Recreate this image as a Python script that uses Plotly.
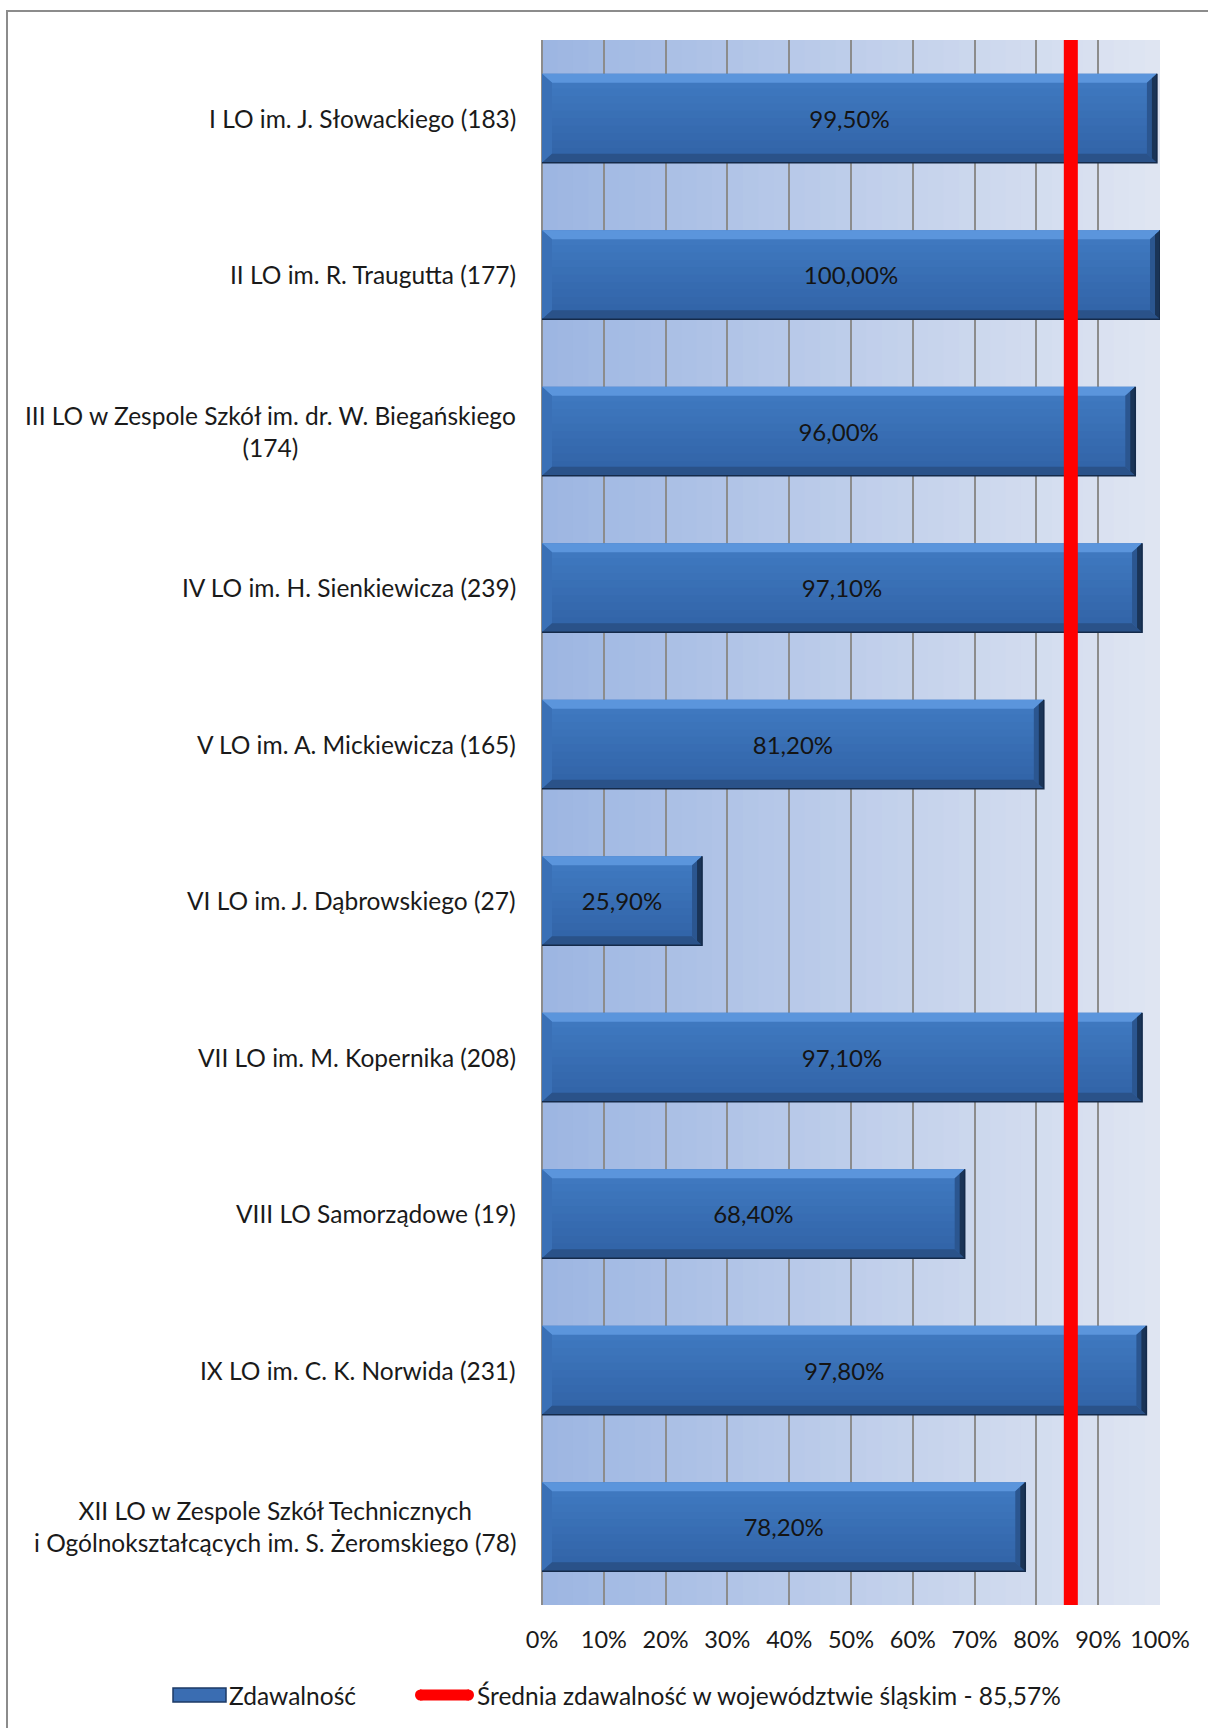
import plotly.graph_objects as go

# ---------------- data ----------------
schools = [
    "I LO im. J. Słowackiego (183)",
    "II LO im. R. Traugutta (177)",
    "III LO w Zespole Szkół im. dr. W. Biegańskiego<br>(174)",
    "IV LO im. H. Sienkiewicza (239)",
    "V LO im. A. Mickiewicza (165)",
    "VI LO im. J. Dąbrowskiego (27)",
    "VII LO im. M. Kopernika (208)",
    "VIII LO Samorządowe (19)",
    "IX LO im. C. K. Norwida (231)",
    "XII LO w Zespole Szkół Technicznych<br>i Ogólnokształcących im. S. Żeromskiego (78)",
]
pass_rate = [99.5, 100.0, 96.0, 97.1, 81.2, 25.9, 97.1, 68.4, 97.8, 78.2]
region_avg = 85.57
tick_vals = [0, 10, 20, 30, 40, 50, 60, 70, 80, 90, 100]
tick_text = ["0%", "10%", "20%", "30%", "40%", "50%", "60%", "70%", "80%", "90%", "100%"]
series_name = "Zdawalność"
avg_name = "Średnia zdawalność w województwie śląskim - 85,57%"

FONT = "Lato"
TXT = "#1a1a1a"
W, H = 1208, 1728
ML, MR, MT, MB = 542, 48, 40, 123
PW, PH = W - ML - MR, H - MT - MB
BARGAP = 0.43

n = len(schools)
ypos = list(range(n))
labels = [f"{v:.2f}".replace(".", ",") + "%" for v in pass_rate]

fig = go.Figure()
fig.add_trace(go.Bar(
    x=pass_rate, y=ypos, orientation="h",
    marker=dict(color="rgba(0,0,0,0)", line=dict(width=0)),
    text=labels, textposition="inside", insidetextanchor="middle",
    textangle=0, constraintext="none",
    textfont=dict(family=FONT, size=24, color="#141414"),
    name=series_name, showlegend=False, hoverinfo="skip",
))
fig.add_trace(go.Scatter(
    x=[region_avg, region_avg], y=[0, 1], yaxis="y2", mode="lines",
    line=dict(color="#ff0000", width=14), name=avg_name,
    showlegend=False, hoverinfo="skip",
))

shapes = []
# background gradient bands (overlapping to avoid seams)
N = 40
c0 = (157, 182, 226)
c1 = (223, 229, 242)
for i in range(N):
    t = i / (N - 1)
    col = tuple(round(c0[k] + (c1[k] - c0[k]) * t) for k in range(3))
    shapes.append(dict(type="rect", xref="x", yref="paper",
                       x0=100 * i / N, x1=min(100, 100 * (i + 2) / N), y0=0, y1=1,
                       fillcolor=f"rgb{col}", line=dict(width=0), layer="below"))

# bevelled bar faces, derived from the bar values
half = (1 - BARGAP) / 2
bx = 10 / PW * 100          # horizontal bevel size in data units
by = 9 / (PH / n)           # vertical bevel size in category units
top_c = (64, 122, 194)
bot_c = (49, 99, 166)
S = 12
for yi, v in zip(ypos, pass_rate):
    yt, yb = yi - half, yi + half
    # face gradient
    for s in range(S):
        t = s / (S - 1)
        col = tuple(round(top_c[k] + (bot_c[k] - top_c[k]) * t) for k in range(3))
        y0 = yt + (yb - yt) * s / S
        y1 = yt + (yb - yt) * min(S, s + 1.5) / S
        shapes.append(dict(type="rect", xref="x", yref="y", x0=0, x1=v, y0=y0, y1=min(y1, yb),
                           fillcolor=f"rgb{col}", line=dict(width=0), layer="between"))
    # top bevel
    shapes.append(dict(type="path", xref="x", yref="y", layer="between",
                       path=f"M0,{yt} L{v},{yt} L{v-bx},{yt+by} L{bx},{yt+by} Z",
                       fillcolor="#5b95dc", line=dict(width=0)))
    # left bevel
    shapes.append(dict(type="path", xref="x", yref="y", layer="between",
                       path=f"M0,{yt} L{bx},{yt+by} L{bx},{yb-by} L0,{yb} Z",
                       fillcolor="#3a70b6", line=dict(width=0)))
    # bottom bevel
    shapes.append(dict(type="path", xref="x", yref="y", layer="between",
                       path=f"M0,{yb} L{bx},{yb-by} L{v-bx},{yb-by} L{v},{yb} Z",
                       fillcolor="#2a5289", line=dict(width=0)))
    # right bevel (two tones for a soft gradient)
    shapes.append(dict(type="path", xref="x", yref="y", layer="between",
                       path=f"M{v},{yt} L{v},{yb} L{v-bx},{yb-by} L{v-bx},{yt+by} Z",
                       fillcolor="#2b5690", line=dict(width=0)))
    shapes.append(dict(type="path", xref="x", yref="y", layer="between",
                       path=f"M{v},{yt} L{v},{yb} L{v-bx/2},{yb-by/2} L{v-bx/2},{yt+by/2} Z",
                       fillcolor="#1a3457", line=dict(width=0)))
    # thin dark outline at bottom/right edges
    shapes.append(dict(type="path", xref="x", yref="y", layer="between",
                       path=f"M0,{yb} L{v},{yb} L{v},{yt}",
                       line=dict(color="#142a4a", width=1.5)))


def px_x(px):
    return (px - ML) / PW


def px_y(py):
    return (H - MB - py) / PH


# outer border (left and top visible)
shapes.append(dict(type="rect", xref="paper", yref="paper",
                   x0=px_x(7), x1=px_x(1215), y0=px_y(1740), y1=px_y(11),
                   line=dict(color="#8c8c8c", width=2), fillcolor="rgba(0,0,0,0)", layer="below"))

# custom legend
shapes.append(dict(type="rect", xref="paper", yref="paper",
                   x0=px_x(173), x1=px_x(226), y0=px_y(1702), y1=px_y(1688),
                   fillcolor="#3a6db2", line=dict(color="#1d3a66", width=1.5)))
shapes.append(dict(type="line", xref="paper", yref="paper",
                   x0=px_x(420), x1=px_x(469), y0=px_y(1695), y1=px_y(1695),
                   line=dict(color="#ff0000", width=11)))
shapes.append(dict(type="circle", xref="paper", yref="paper",
                   x0=px_x(415), x1=px_x(426), y0=px_y(1700.5), y1=px_y(1689.5),
                   fillcolor="#ff0000", line=dict(width=0)))
shapes.append(dict(type="circle", xref="paper", yref="paper",
                   x0=px_x(463), x1=px_x(474), y0=px_y(1700.5), y1=px_y(1689.5),
                   fillcolor="#ff0000", line=dict(width=0)))

annotations = []
for yi, s in zip(ypos, schools):
    annotations.append(dict(x=px_x(518), y=yi, xref="paper", yref="y", text=s,
                            showarrow=False, xanchor="right", yanchor="middle",
                            align="center", font=dict(family=FONT, size=24.5, color=TXT)))
annotations.append(dict(x=px_x(227), y=px_y(1695), xref="paper", yref="paper", text=series_name,
                        showarrow=False, xanchor="left", yanchor="middle",
                        font=dict(family=FONT, size=24.5, color=TXT)))
annotations.append(dict(x=px_x(475), y=px_y(1695), xref="paper", yref="paper", text=avg_name,
                        showarrow=False, xanchor="left", yanchor="middle",
                        font=dict(family=FONT, size=24.5, color=TXT)))

fig.update_layout(
    width=W, height=H,
    margin=dict(l=ML, r=MR, t=MT, b=MB, pad=0),
    paper_bgcolor="white", plot_bgcolor="rgba(0,0,0,0)",
    bargap=BARGAP,
    showlegend=False,
    shapes=shapes, annotations=annotations,
    xaxis=dict(range=[0, 100], tickvals=tick_vals, ticktext=tick_text,
               showgrid=True, gridcolor="#8c8c8c", gridwidth=2,
               zeroline=True, zerolinecolor="#8c8c8c", zerolinewidth=2,
               showline=False, ticks="", ticklabelstandoff=18,
               tickfont=dict(family=FONT, size=23.5, color=TXT), fixedrange=True),
    yaxis=dict(range=[n - 0.5, -0.5], showticklabels=False, showgrid=False,
               zeroline=False, showline=False, ticks="", fixedrange=True),
    yaxis2=dict(overlaying="y", range=[0, 1], visible=False, fixedrange=True),
    font=dict(family=FONT),
)

fig.write_html("out.html", config={"displayModeBar": False},
               post_script="document.body.style.margin='0';")
